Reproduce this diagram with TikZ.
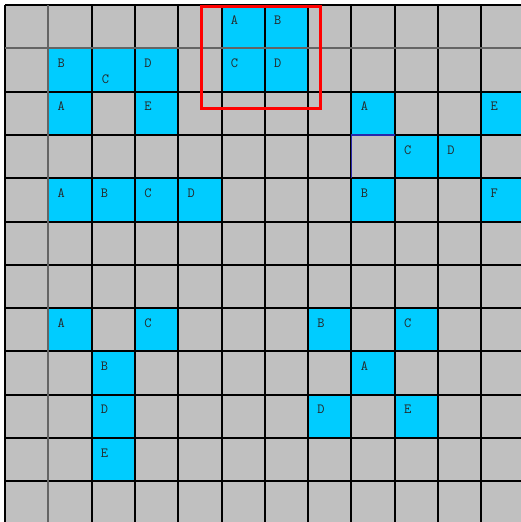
\documentclass[tikz,border=0pt]{standalone}
\definecolor{gridgray}{RGB}{192,192,192}
\definecolor{cellblue}{RGB}{0,204,255}
\definecolor{linegray}{RGB}{100,100,100}
\definecolor{outlineblue}{RGB}{40,40,170}
\tikzset{
  lettr/.style={inner sep=0pt, font=\ttfamily\fontsize{14}{14}\selectfont, text=black!85},
  gridline/.style={line width=2pt, draw=black},
  softline/.style={line width=2pt, draw=linegray},
  redframe/.style={line width=3pt, draw=red}
}
\begin{document}
\begin{tikzpicture}[x=1pt,y=-1pt]
\useasboundingbox (0,0) rectangle (521,522);
\clip (0,0) rectangle (521,522);
\fill[white] (0,0) rectangle (521,522);
\fill[gridgray] (5,5) rectangle (530,530);
% blue cells with letters
\foreach \c/\r/\t in {5/0/A,6/0/B,1/1/B,3/1/D,5/1/C,6/1/D,1/2/A,3/2/E,8/2/A,11/2/E,9/3/C,10/3/D,1/4/A,2/4/B,3/4/C,4/4/D,8/4/B,11/4/F,1/7/A,3/7/C,7/7/B,9/7/C,2/8/B,8/8/A,2/9/D,7/9/D,9/9/E,2/10/E}{
  \fill[cellblue] (5+43.3*\c,5+43.3*\r) rectangle ++(43.3,43.3);
  \node[lettr] (L\c-\r) at (5+43.3*\c+13,5+43.3*\r+15) {\t};
}
\fill[cellblue] (5+43.3*2,5+43.3*1) rectangle ++(43.3,43.3);
\node[lettr] (L2-1) at (5+43.3*2+14,5+43.3*1+31) {C};
% grid lines
\foreach \i in {0,2,3,...,12}{
  \draw[gridline] (5+43.3*\i,5) -- (5+43.3*\i,530);
  \draw[gridline] (5,5+43.3*\i) -- (530,5+43.3*\i);
}
\draw[softline] (5+43.3,5) -- (5+43.3,530);
\draw[softline] (5,5+43.3) -- (530,5+43.3);
% blue outlined cell
\draw[outlineblue, line width=1.2pt] (5+43.3*8,5+43.3*4) -- ++(0,-43.3) -- ++(43.3,0);
% red frame
\draw[redframe] (201.5,6.5) rectangle (320,108.5);
\end{tikzpicture}
\end{document}
